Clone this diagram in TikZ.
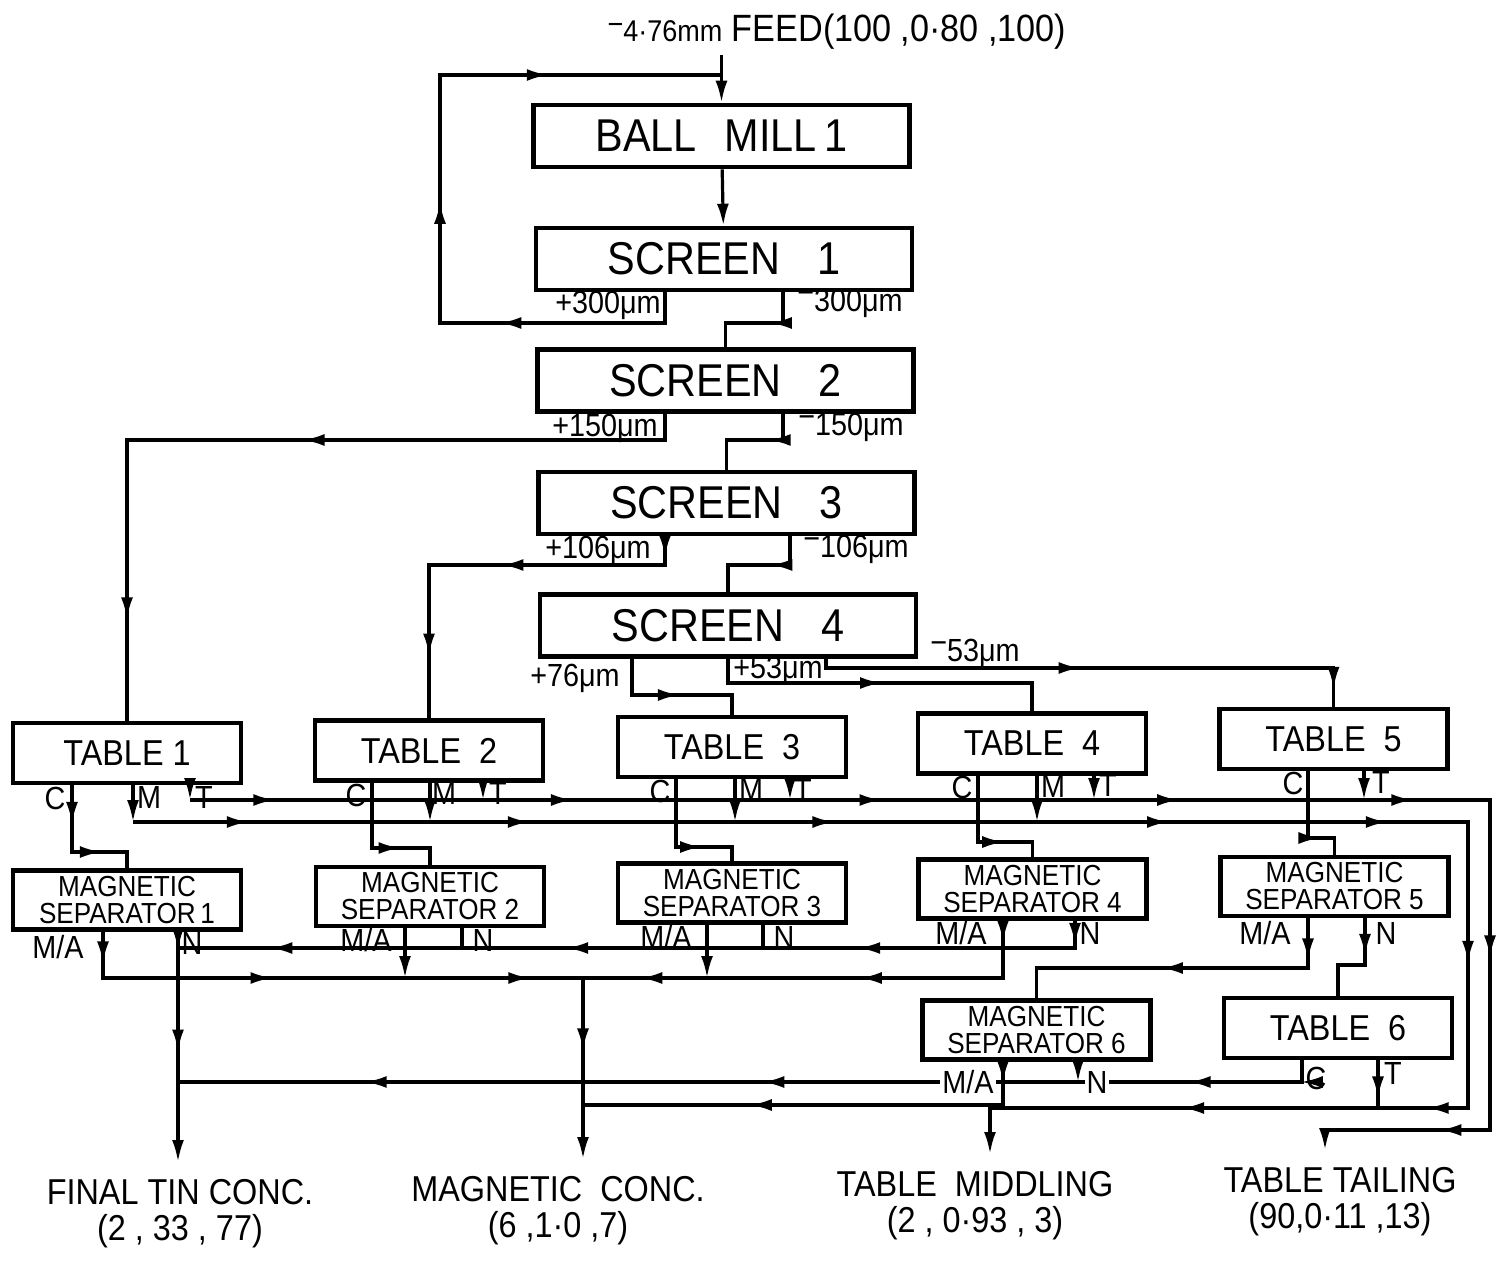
\documentclass[tikz,border=0pt]{standalone}
\usepackage{fontspec}
\setmainfont{Liberation Sans}[FakeStretch=0.9]
\usetikzlibrary{arrows.meta,decorations.markings}
\newcommand{\mn}{\raisebox{.45ex}{−}}

\begin{document}
\begin{tikzpicture}[
  x=0.5pt, y=-0.5pt,
  line width=1.6pt,
  box/.style={draw=black, line width=2.3pt, fill=white, inner sep=0pt, align=center},
  scr/.style={box, minimum width=188pt, minimum height=31pt, font=\fontsize{23}{23}\selectfont},
  tbl/.style={box, minimum width=114pt, minimum height=30pt, font=\fontsize{18}{18}\selectfont},
  msep/.style={box, minimum width=114pt, minimum height=29.5pt, font=\fontsize{14.5}{13.5}\selectfont},
  lbl/.style={inner sep=1pt, font=\fontsize{16}{16}\selectfont},
  prod/.style={align=center, inner sep=8pt, font=\fontsize{18}{18}\selectfont},
  arr/.style={-{Latex[length=11pt,width=6pt]}},
  marr/.style={postaction={decorate, decoration={markings,
      mark=at position #1 with {\arrow{Latex[length=11pt,width=6pt]}}}}},
]
  \useasboundingbox (0,0) rectangle (1499,1262);

  % units
  \node[inner sep=2pt, font=\fontsize{19}{19}\selectfont] (feed) at (837,32)
    {{\fontsize{15}{15}\selectfont\mn4·76mm} FEED(100 ,0·80 ,100)};
  \node[scr] (mill) at (721.5,136) {BALL\hspace{.6em}MILL\,1};
  \node[scr] (sc1) at (724,259) {SCREEN\hspace{.8em}1};
  \node[scr] (sc2) at (725.5,380.5) {SCREEN\hspace{.8em}2};
  \node[scr] (sc3) at (726.5,503) {SCREEN\hspace{.8em}3};
  \node[scr] (sc4) at (728,625.5) {SCREEN\hspace{.8em}4};

  \node[tbl] (tab1) at (127,753) {TABLE 1};
  \node[tbl] (tab2) at (429,750.5) {TABLE~~2};
  \node[tbl] (tab3) at (732,747) {TABLE~~3};
  \node[tbl] (tab4) at (1032,743.5) {TABLE~~4};
  \node[tbl] (tab5) at (1333.5,739) {TABLE~~5};
  \node[tbl] (tab6) at (1338,1028) {TABLE~~6};

  \node[msep] (ms1) at (127,900) {MAGNETIC\\SEPARATOR\,1};
  \node[msep] (ms2) at (430,896.5) {MAGNETIC\\SEPARATOR 2};
  \node[msep] (ms3) at (732,893) {MAGNETIC\\SEPARATOR 3};
  \node[msep] (ms4) at (1032.5,889) {MAGNETIC\\SEPARATOR 4};
  \node[msep] (ms5) at (1334.5,886.5) {MAGNETIC\\SEPARATOR 5};
  \node[msep] (ms6) at (1036.5,1030) {MAGNETIC\\SEPARATOR 6};

  \node[prod, anchor=north] (fin) at (180,1162) {FINAL TIN CONC.\\(2 , 33 , 77)};
  \node[prod, anchor=north] (mag) at (558,1159) {MAGNETIC\ \ CONC.\\(6 ,1·0 ,7)};
  \node[prod, anchor=north] (mid) at (975,1154) {TABLE\ \ MIDDLING\\(2 , 0·93 , 3)};
  \node[prod, anchor=north] (tail) at (1340,1150) {TABLE TAILING\\(90,0·11 ,13)};

  % bends
  \coordinate (r1) at (665,323);  \coordinate (r2) at (440,323);
  \coordinate (r3) at (440,75);   \coordinate (s1) at (783,323);
  \coordinate (t1) at (665,440);  \coordinate (t2) at (127,440);
  \coordinate (s2) at (783,440);  \coordinate (t3) at (665,565);
  \coordinate (t4) at (429,565);  \coordinate (s3) at (790,565);
  \coordinate (u1) at (632,695);  \coordinate (u2) at (728,683);
  \coordinate (u3) at (826,668);
  \coordinate (c1) at (72,852);   \coordinate (c2) at (372,848);
  \coordinate (c3) at (676,847);  \coordinate (c4) at (978,842);
  \coordinate (c5) at (1308,838);
  \coordinate (tl) at (190,800);  \coordinate (tr) at (1490,800);
  \coordinate (tb) at (1490,1130); \coordinate (tx) at (1325,1130);
  \coordinate (ml) at (133,822);  \coordinate (mr) at (1468,822);
  \coordinate (mb) at (1468,1108); \coordinate (mx) at (990,1108);
  \coordinate (nl) at (178,948);  \coordinate (nr) at (1075,948);
  \coordinate (al) at (103,978);  \coordinate (ar) at (1003,978);
  \coordinate (am) at (583,978);
  \coordinate (a5) at (1308,968); \coordinate (n5) at (1365,965);
  \coordinate (c6) at (1302,1082); \coordinate (a6) at (1003,1105);

  % grinding and screening
  \draw[arr] (mill.north |- feed.south) -- (mill.north);
  \draw[arr] (mill) -- (sc1);
  \draw[marr=.25, marr=.48, marr=.78] (r1 |- sc1.south) -- (r1) -- (r2) -- (r3) -- (r3 -| mill.north);
  \draw[marr=.39] (s1 |- sc1.south) -- (s1) -- (s1 -| sc2.north) -- (sc2.north);
  \draw[marr=.46, marr=.88] (t1 |- sc2.south) -- (t1) -- (t2) -- (tab1.north);
  \draw[marr=.36] (s2 |- sc2.south) -- (s2) -- (s2 -| sc3.north) -- (sc3.north);
  \draw[marr=.05, marr=.46, marr=.85] (t3 |- sc3.south) -- (t3) -- (t4) -- (tab2.north);
  \draw[marr=.41] (s3 |- sc3.south) -- (s3) -- (s3 -| sc4.north) -- (sc4.north);
  \draw[marr=.54] (u1 |- sc4.south) -- (u1) -- (u1 -| tab3.north) -- (tab3.north);
  \draw[marr=.5] (u2 |- sc4.south) -- (u2) -- (u2 -| tab4.north) -- (tab4.north);
  \draw[marr=.475, marr=.968] (u3 |- sc4.south) -- (u3) -- (u3 -| tab5.north) -- (tab5.north);

  % tables
  \draw[marr=.28, marr=.70] (c1 |- tab1.south) -- (c1) -- (c1 -| ms1.north) -- (ms1.north);
  \draw[marr=.67] (c2 |- tab2.south) -- (c2) -- (c2 -| ms2.north) -- (ms2.north);
  \draw[marr=.68] (c3 |- tab3.south) -- (c3) -- (c3 -| ms3.north) -- (ms3.north);
  \draw[marr=.68] (c4 |- tab4.south) -- (c4) -- (c4 -| ms4.north) -- (ms4.north);
  \draw[marr=.72] (c5 |- tab5.south) -- (c5) -- (c5 -| ms5.north) -- (ms5.north);
  \draw[arr] (tl |- tab1.south) -- (tl);
  \draw[arr] (483,0 |- tab2.south) -- (483,0 |- tl);
  \draw[arr] (790,0 |- tab3.south) -- (790,0 |- tl);
  \draw[arr] (1094,0 |- tab4.south) -- (1094,0 |- tl);
  \draw[arr] (1364,0 |- tab5.south) -- (1364,0 |- tl);
  \draw[arr] (ml |- tab1.south) -- (ml);
  \draw[arr] (430,0 |- tab2.south) -- (430,0 |- ml);
  \draw[arr] (735,0 |- tab3.south) -- (735,0 |- ml);
  \draw[arr] (1037,0 |- tab4.south) -- (1037,0 |- ml);
  \draw[marr=.047, marr=.211, marr=.381, marr=.545, marr=.674, marr=.803, marr=.926, arr]
    (tl) -- (tr) -- (tb) -- (tx) -- (tx |- tail.north);
  \draw[marr=.054, marr=.185, marr=.327, marr=.483, marr=.585, marr=.688, marr=.775, marr=.889, arr]
    (ml) -- (mr) -- (mb) -- (mx) -- (mx |- mid.north);
  \draw[marr=.8] (1378,0 |- tab6.south) -- (1378,0 |- mb);

  % magnetic separators
  \draw[marr=.026, marr=.264, marr=.58, marr=.90] (nr |- ms4.south) -- (nr) -- (nl);
  \draw (462,0 |- ms2.south) -- (462,0 |- nl);
  \draw (763,0 |- ms3.south) -- (763,0 |- nl);
  \draw[marr=.08, marr=.52, arr] (nl |- ms1.south) -- (nl |- fin.north);
  \draw[marr=.06, marr=.41, marr=.90] (al |- ms1.south) -- (al) -- (am);
  \draw[arr] (405,0 |- ms2.south) -- (405,0 |- al);
  \draw[arr] (707,0 |- ms3.south) -- (707,0 |- al);
  \draw[marr=.045, marr=.42, marr=.88] (ar |- ms4.south) -- (ar) -- (am);
  \draw[marr=.4, arr] (am) -- (am |- mag.north);
  \draw[marr=.12, marr=.56] (a5 |- ms5.south) -- (a5) -- (a5 -| ms6.north) -- (ms6.north);
  \draw[marr=.36] (n5 |- ms5.south) -- (n5) -- (n5 -| tab6.north) -- (tab6.north);
  \draw[marr=.02, marr=.118, marr=.49, marr=.837] (c6 |- tab6.south) -- (c6) -- (c6 -| nl);
  \draw[arr] (1078,0 |- ms6.south) -- (1078,0 |- c6);
  \draw[marr=.045, marr=.64] (a6 |- ms6.south) -- (a6) -- (a6 -| am);

  % stream labels
  \node[lbl] (l300p) at (608,305) {+300μm};
  \node[lbl] (l300m) at (850,303) {\mn300μm};
  \node[lbl] (l150p) at (605,428) {+150μm};
  \node[lbl] (l150m) at (851,427) {\mn150μm};
  \node[lbl] (l106p) at (598,550) {+106μm};
  \node[lbl] (l106m) at (856,549) {\mn106μm};
  \node[lbl] (l76p) at (575,678) {+76μm};
  \node[lbl] (l53p) at (778,670) {+53μm};
  \node[lbl] (l53m) at (975,653) {\mn53μm};

  \node[lbl] (lc1) at (55,798) {C};   \node[lbl] (lm1) at (149,797) {M};  \node[lbl] (lt1) at (204,797) {T};
  \node[lbl] (lc2) at (356,795) {C};  \node[lbl] (lm2) at (444,793) {M};  \node[lbl] (lt2) at (498,793) {T};
  \node[lbl] (lc3) at (660,791) {C};  \node[lbl] (lm3) at (751,789) {M};  \node[lbl] (lt3) at (803,790) {T};
  \node[lbl] (lc4) at (962,787) {C};  \node[lbl] (lm4) at (1053,786) {M}; \node[lbl] (lt4) at (1108,785) {T};
  \node[lbl] (lc5) at (1293,783) {C}; \node[lbl] (lt5) at (1381,782) {T};
  \node[lbl] (lc6) at (1316,1078) {C}; \node[lbl] (lt6) at (1393,1073) {T};

  \node[lbl] (la1) at (58,947) {M/A};   \node[lbl] (ln1) at (192,943) {N};
  \node[lbl] (la2) at (366,940) {M/A};  \node[lbl] (ln2) at (483,940) {N};
  \node[lbl] (la3) at (666,937) {M/A};  \node[lbl] (ln3) at (784,937) {N};
  \node[lbl] (la4) at (961,933) {M/A};  \node[lbl] (ln4) at (1090,933) {N};
  \node[lbl] (la5) at (1265,933) {M/A}; \node[lbl] (ln5) at (1386,933) {N};
  \node[lbl, fill=white] (la6) at (968,1082) {M/A};
  \node[lbl, fill=white] (ln6) at (1097,1082) {N};
\end{tikzpicture}
\end{document}
